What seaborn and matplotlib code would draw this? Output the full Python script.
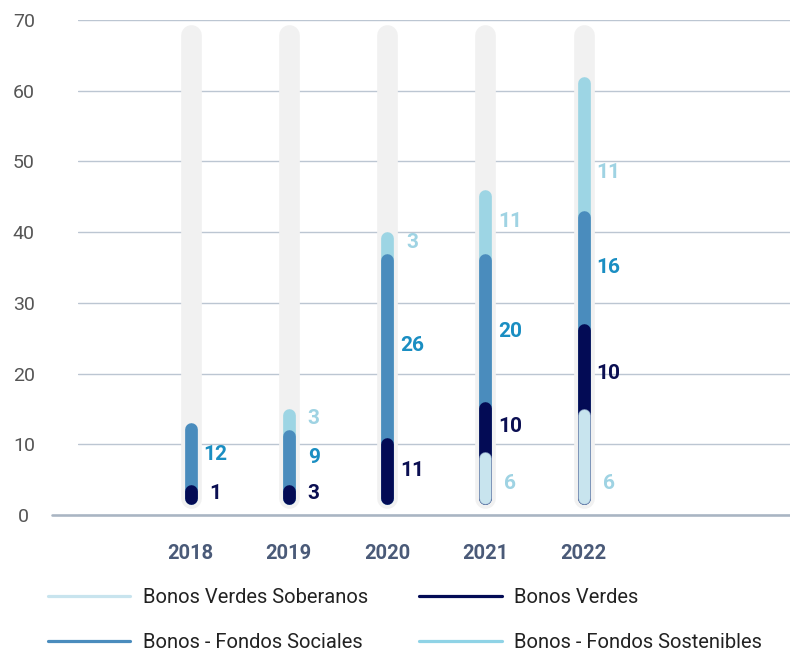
import numpy as np
import matplotlib
matplotlib.use("Agg")
import matplotlib.pyplot as plt
import seaborn as sns
from matplotlib.lines import Line2D

# ---------------- data ----------------
years = ["2018", "2019", "2020", "2021", "2022"]
series_names = ["Bonos Verdes Soberanos", "Bonos Verdes",
                "Bonos - Fondos Sociales", "Bonos - Fondos Sostenibles"]
# segment heights as drawn in the picture
verdes_soberanos = [0, 0, 0, 9, 15]
verdes = [1, 3, 11, 7, 12]
sociales = [12, 9, 26, 21, 16]
sostenibles = [0, 3, 3, 9, 19]
# value labels as printed
lbl_verdes_soberanos = [0, 0, 0, 6, 6]
lbl_verdes = [1, 3, 11, 10, 10]
lbl_sociales = [12, 9, 26, 20, 16]
lbl_sostenibles = [0, 3, 3, 11, 11]
y_ticks = [0, 10, 20, 30, 40, 50, 60, 70]
y_max = 70

# ---------------- style ----------------
sns.set_theme(style="white")
plt.rcParams["font.family"] = ["Roboto", "DejaVu Sans"]

bar_colors = ["#c8e4ee", "#030b55", "#4a8cbd", "#9dd5e4"]
label_colors = ["#9fd3e3", "#0b0f52", "#1a8ec2", "#9fd3e3"]
legend_colors = ["#c8e4ee", "#030b55", "#4a8cbd", "#8fd3e6"]
bg_color = "#f1f1f1"
grid_color = "#bcc6d2"
axis_color = "#a9b5c3"

W, H, DPI = 790, 651, 100
fig = plt.figure(figsize=(W / DPI, H / DPI), dpi=DPI)
ax_left, ax_right, ax_top, ax_bottom = 78, 790, 20, 515
ax = fig.add_axes([ax_left / W, 1 - ax_bottom / H,
                   (ax_right - ax_left) / W, (ax_bottom - ax_top) / H])

px_per_unit = (ax_bottom - ax_top) / y_max
px2pt = 72 / DPI

x = np.arange(len(years))
ax.set_xlim(-1.145, 6.10)
ax.set_ylim(0, y_max)

# grid
ax.set_yticks(y_ticks)
ax.yaxis.grid(True, color=grid_color, linewidth=1.0, zorder=0)
ax.xaxis.grid(False)
for s in ax.spines.values():
    s.set_visible(False)
ax.axhline(0, xmin=(52 - ax_left) / (ax_right - ax_left), xmax=1,
           color=axis_color, linewidth=2.6 * px2pt, clip_on=False, zorder=1)

# background tracks
bg_w_px = 20.7
bg_r = bg_w_px / 2 / px_per_unit
start = 2.35
ax.vlines(x, start, y_max - 0.7 - bg_r, colors=bg_color,
          linewidths=bg_w_px * px2pt, capstyle="round", zorder=2)

# stacked rounded segments
col_w_px = 12.7
r = col_w_px / 2 / px_per_unit
data = [verdes_soberanos, verdes, sociales, sostenibles]
labels = [lbl_verdes_soberanos, lbl_verdes, lbl_sociales, lbl_sostenibles]

for i in range(len(years)):
    cum = 0
    prev_end = None
    prev_top = start - r
    segs = []
    for k in range(4):
        v = data[k][i]
        if v == 0:
            continue
        cum += v
        lo = (prev_end if prev_end is not None else start) + 1.0
        end = max(cum - r, lo)
        top = end + r
        h = top - prev_top
        lv = labels[k][i]
        ylab = prev_top + max(min(lv, h) / 2, 1.6)
        segs.append((k, end, ylab))
        prev_end = end
        prev_top = top
    # draw from top series to bottom so lower ones overlay
    for z, (k, end, ylab) in enumerate(reversed(segs)):
        if k == 0:
            ax.vlines(x[i], start, end, colors="#8ea6c6",
                      linewidths=col_w_px * px2pt, capstyle="round", zorder=3 + z)
            ax.vlines(x[i], start, end, colors=bar_colors[k],
                      linewidths=(col_w_px - 1.6) * px2pt, capstyle="round",
                      zorder=3 + z)
        else:
            ax.vlines(x[i], start, end, colors=bar_colors[k],
                      linewidths=col_w_px * px2pt, capstyle="round", zorder=3 + z)
    for k, end, ylab in segs:
        lv = labels[k][i]
        if lv:
            ax.annotate(str(lv), (x[i], ylab), xytext=(18, 0),
                        textcoords="offset points", ha="center", va="center",
                        fontsize=15, fontweight="bold", color=label_colors[k],
                        zorder=10)

# ticks
ax.set_xticks(x)
ax.set_xticklabels(years, fontsize=14.5, fontweight="bold", color="#4a5a78")
ax.set_yticklabels([str(t) for t in y_ticks], fontsize=14, color="#555555")
ax.tick_params(axis="x", length=0, pad=21)
ax.tick_params(axis="y", length=0, pad=39)
for lab in ax.get_yticklabels():
    lab.set_horizontalalignment("center")

# legend (column-major fill -> reorder so rows read left to right)
handles = [Line2D([0], [0], color=c, linewidth=3.2 * px2pt) for c in legend_colors]
order = [0, 2, 1, 3]
fig.legend([handles[j] for j in order], [series_names[j] for j in order],
           ncol=2, loc="upper left",
           bbox_to_anchor=(48 / W, 1 - 588 / H), frameon=False,
           fontsize=14.5, handlelength=4.08, handletextpad=0.63,
           columnspacing=2.55, labelspacing=1.3, borderpad=0,
           borderaxespad=0, labelcolor="#222222")

fig.savefig("out.png", dpi=DPI)
